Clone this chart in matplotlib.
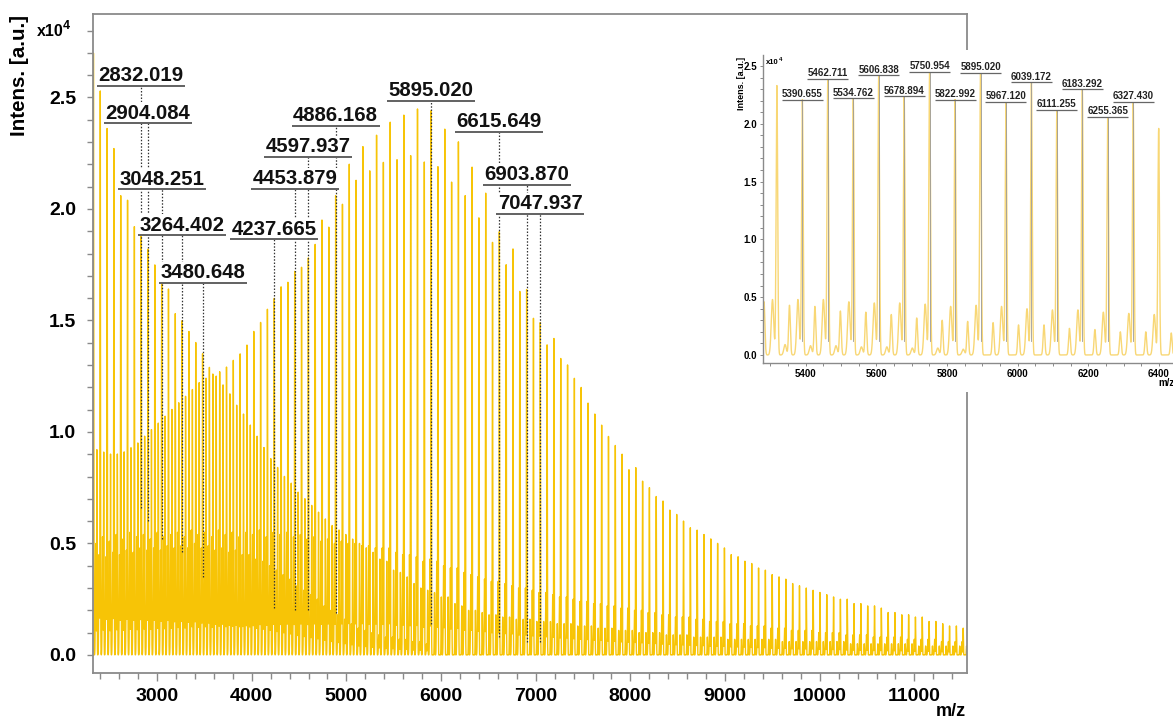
import numpy as np
import matplotlib
matplotlib.use("Agg")
import matplotlib.pyplot as plt
from matplotlib.patches import Rectangle
from matplotlib.ticker import MultipleLocator

plt.rcParams['font.family'] = ['Liberation Sans', 'DejaVu Sans']
plt.rcParams['font.weight'] = 'bold'

# ---- data (intensities in units of 1e4 a.u.) ----
repeat_unit = 72.06

# series labelled at high mass: 5895.020 + n * 72.06, first n = -49
series_a_anchor = 5895.020
series_a_first = -49
series_a_heights = [
    0.92, 0.91, 0.90, 0.90, 0.91, 0.93, 0.95, 0.98, 1.01, 1.04,
    1.07, 1.10, 1.13, 1.16, 1.19, 1.22, 1.24, 1.26, 1.27, 1.29,
    1.32, 1.35, 1.39, 1.45, 1.49, 1.55, 1.60, 1.65, 1.67, 1.72,
    1.74, 1.78, 1.84, 1.95, 1.92, 2.06, 2.02, 2.20, 2.13, 2.28,
    2.17, 2.33, 2.21, 2.39, 2.22, 2.42, 2.24, 2.45, 2.21, 2.44,
    2.19, 2.36, 2.12, 2.30, 2.06, 2.19, 1.96, 2.07, 1.85, 1.90,
    1.75, 1.82, 1.63, 1.64, 1.51, 1.49, 1.39, 1.42, 1.33, 1.30,
    1.24, 1.20, 1.13, 1.08, 1.03, 0.98, 0.94, 0.90, 0.83, 0.84,
    0.78, 0.75, 0.71, 0.69, 0.65, 0.63, 0.60, 0.57, 0.56, 0.54,
    0.52, 0.50, 0.48, 0.45, 0.44, 0.42, 0.41, 0.39, 0.38, 0.36,
    0.35, 0.34, 0.32, 0.31, 0.30, 0.29, 0.28, 0.27, 0.26, 0.25,
    0.25, 0.23, 0.23, 0.22, 0.22, 0.21, 0.19, 0.19, 0.18, 0.18,
    0.17, 0.17, 0.15, 0.15, 0.14, 0.13, 0.13, 0.12,
]

# series labelled at low mass: 2832.019 + n * 72.06, first n = -7
series_b_anchor = 2832.019
series_b_first = -7
series_b_heights = [
    2.70, 2.53, 2.36, 2.27, 2.06, 2.04, 1.92, 1.88, 1.82, 1.75,
    1.70, 1.64, 1.53, 1.50, 1.45, 1.40, 1.35, 1.29, 1.25, 1.21,
    1.17, 1.12, 1.08, 1.03, 0.98, 0.93, 0.88, 0.84, 0.80, 0.77,
    0.73, 0.70, 0.67, 0.64, 0.61, 0.58, 0.56, 0.54, 0.52, 0.50,
    0.48, 0.46, 0.43, 0.42, 0.38, 0.37, 0.35, 0.32, 0.30, 0.29,
    0.28, 0.26, 0.26, 0.23, 0.22, 0.20, 0.20, 0.19, 0.18, 0.18,
    0.17, 0.17, 0.16, 0.16, 0.16, 0.15, 0.15, 0.15, 0.14, 0.14,
    0.14, 0.13, 0.13, 0.13, 0.12, 0.12, 0.12, 0.11, 0.11, 0.11,
    0.10, 0.10, 0.10, 0.10, 0.09, 0.09, 0.09, 0.09, 0.08, 0.08,
    0.08, 0.08, 0.08, 0.07, 0.07, 0.07, 0.07, 0.07, 0.07, 0.07,
    0.07, 0.06, 0.06, 0.06, 0.06, 0.06, 0.06, 0.06, 0.06, 0.06,
    0.06, 0.05, 0.05, 0.05, 0.05, 0.05, 0.05, 0.05, 0.05, 0.05,
    0.05, 0.04, 0.04, 0.04, 0.04, 0.04, 0.04, 0.04, 0.04,
]

# satellite peaks 12.5 Da below each main series peak
satellite_shift = -12.5
satellite_a_heights = [
    0.50, 0.53, 0.51, 0.54, 0.52, 0.55, 0.53, 0.54, 0.52, 0.55,
    0.53, 0.54, 0.55, 0.53, 0.56, 0.54, 0.55, 0.53, 0.56, 0.54,
    0.55, 0.53, 0.55, 0.54, 0.56, 0.53, 0.55, 0.54, 0.55, 0.53,
    0.54, 0.52, 0.53, 0.51, 0.52, 0.50, 0.51, 0.50, 0.50, 0.49,
    0.49, 0.48, 0.48, 0.48, 0.46, 0.45, 0.45, 0.44, 0.42, 0.43,
    0.42, 0.40, 0.39, 0.39, 0.37, 0.36, 0.35, 0.34, 0.33, 0.33,
    0.32, 0.31, 0.30, 0.30, 0.29, 0.28, 0.28, 0.27, 0.26, 0.26,
    0.25, 0.24, 0.24, 0.23, 0.23, 0.22, 0.22, 0.21, 0.21, 0.20,
    0.20, 0.19, 0.19, 0.18, 0.18, 0.17, 0.17, 0.17, 0.16, 0.16,
    0.15, 0.15, 0.15, 0.14, 0.14, 0.14, 0.13, 0.13, 0.13, 0.12,
    0.12, 0.12, 0.11, 0.11, 0.11, 0.11, 0.10, 0.10, 0.10, 0.10,
    0.09, 0.09, 0.09, 0.09, 0.08, 0.08, 0.08, 0.08, 0.08, 0.07,
    0.07, 0.07, 0.07, 0.07, 0.06, 0.06, 0.06, 0.06,
]
satellite_b_heights = [
    0.42, 0.45, 0.44, 0.46, 0.45, 0.47, 0.46, 0.48, 0.47, 0.48,
    0.47, 0.49, 0.48, 0.49, 0.48, 0.50, 0.48, 0.49, 0.47, 0.48,
    0.46, 0.47, 0.45, 0.45, 0.43, 0.42, 0.40, 0.38, 0.36, 0.34,
    0.31, 0.29, 0.27, 0.25, 0.22, 0.20, 0.18, 0.16, 0.14, 0.12,
    0.11, 0.10, 0.09, 0.08, 0.08, 0.07, 0.07, 0.06, 0.06, 0.05,
]

# annotated peaks of the full spectrum
main_labels = ['2832.019', '2904.084', '3048.251', '3264.402', '3480.648',
               '4237.665', '4453.879', '4597.937', '4886.168', '5895.020',
               '6615.649', '6903.870', '7047.937']
# annotated peaks of the zoomed view
inset_labels = ['5390.655', '5462.711', '5534.762', '5606.838', '5678.894',
                '5750.954', '5822.992', '5895.020', '5967.120', '6039.172',
                '6111.255', '6183.292', '6255.365', '6327.430']

# ---- layout of the annotations ----
main_label_levels = [2.552, 2.384, 2.088, 1.883, 1.668, 1.865, 2.090,
                     2.233, 2.372, 2.484, 2.345, 2.108, 1.978]
main_stem_ends = [0.66, 0.60, 0.52, 0.46, 0.35, 0.21, 0.20,
                  0.20, 0.19, 0.14, 0.08, 0.06, 0.06]


def peak_positions(anchor, first, count, shift=0.0):
    n = np.arange(first, first + count)
    return anchor + n * repeat_unit + shift


def profile(x, centers, heights, sigma):
    y = np.zeros_like(x)
    for c, h in zip(centers, heights):
        lo, hi = np.searchsorted(x, [c - 6 * sigma, c + 6 * sigma])
        y[lo:hi] += h * np.exp(-0.5 * ((x[lo:hi] - c) / sigma) ** 2)
    return y


pos_a = peak_positions(series_a_anchor, series_a_first, len(series_a_heights))
pos_b = peak_positions(series_b_anchor, series_b_first, len(series_b_heights))
pos_sa = peak_positions(series_a_anchor, series_a_first, len(satellite_a_heights), satellite_shift)
pos_sb = peak_positions(series_b_anchor, series_b_first, len(satellite_b_heights), satellite_shift)

mz = np.arange(2300, 11600, 0.25)
intens = (profile(mz, pos_a, series_a_heights, 2.2)
          + profile(mz, pos_b, series_b_heights, 2.4)
          + profile(mz, pos_sa, satellite_a_heights, 3.5)
          + profile(mz, pos_sb, satellite_b_heights, 3.5))

W, H = 1173, 719
fig = plt.figure(figsize=(W / 100, H / 100), dpi=100)
gray = '#8a8a8a'

# ---- main spectrum ----
ax = fig.add_axes([93 / W, 1 - 673 / H, (967 - 93) / W, (673 - 14) / H])
ax.plot(mz, intens, color='#F7C406', lw=1.0, zorder=2)
ax.set_xlim(2323, 11556)
ax.set_ylim(-0.081, 2.874)
ax.set_xticks(np.arange(3000, 11001, 1000))
ax.xaxis.set_minor_locator(MultipleLocator(200))
ax.set_yticks(np.arange(0, 2.51, 0.5))
ax.set_yticklabels(['0.0', '0.5', '1.0', '1.5', '2.0', '2.5'])
ax.set_yticks(np.arange(0, 2.85, 0.1), minor=True)
ax.tick_params(axis='both', which='both', direction='out', color=gray, width=1.0, labelsize=14)
ax.tick_params(axis='x', which='major', length=6, pad=4.5)
ax.tick_params(axis='x', which='minor', length=4)
ax.tick_params(axis='y', which='both', length=4, pad=8)
for s in ax.spines.values():
    s.set_color(gray)
    s.set_linewidth(1.3)

px_x = (11556 - 2323) / (967 - 93)
px_y = (2.874 + 0.081) / (673 - 14)
for text, level, end in zip(main_labels, main_label_levels, main_stem_ends):
    m = float(text)
    ax.plot([m, m], [end, level], color='#333333', lw=0.9, ls=(0, (1.2, 1.4)), zorder=3)
    ax.plot([m - 44 * px_x, m + 44 * px_x], [level, level], color='#555555', lw=1.3, zorder=5,
            solid_capstyle='butt')
    ax.text(m, level + 4.5 * px_y, text, ha='center', va='baseline', fontsize=14.7,
            fontweight='bold', color='#111111', zorder=4,
            bbox=dict(facecolor='white', edgecolor='none', pad=1.0))

fig.text(20 / W, 1 - 15 / H, 'Intens. [a.u.]', rotation=90, ha='center', va='top',
         fontsize=14.8, fontweight='bold')
fig.text(37 / W, 1 - 36 / H, 'x10', ha='left', va='baseline', fontsize=11.5, fontweight='bold')
fig.text(63 / W, 1 - 29 / H, '4', ha='left', va='baseline', fontsize=9, fontweight='bold')
fig.text(966 / W, 1 - 716 / H, 'm/z', ha='right', va='baseline', fontsize=13, fontweight='bold')

# ---- white area behind the zoomed view ----
fig.patches.append(Rectangle((735 / W, 1 - 392 / H), (W - 735) / W, (392 - 50) / H,
                             transform=fig.transFigure, facecolor='white',
                             edgecolor='none', zorder=2))

# ---- zoomed view 5280-6440 ----
ins = fig.add_axes([763.3 / W, 1 - 362.7 / H, (W - 763.3) / W, (362.7 - 55) / H])
ins.set_zorder(3)
ins.set_facecolor('white')
sel = (mz > 5200) & (mz < 6500)
ins.plot(mz[sel], intens[sel], color='#F8D775', lw=1.0)
ins.set_xlim(5280, 6440)
ins.set_ylim(-0.067, 2.595)
ins.set_xticks(np.arange(5400, 6401, 200))
ins.xaxis.set_minor_locator(MultipleLocator(50))
ins.set_yticks(np.arange(0, 2.51, 0.5))
ins.set_yticklabels(['0.0', '0.5', '1.0', '1.5', '2.0', '2.5'])
ins.set_yticks(np.arange(0, 2.55, 0.1), minor=True)
ins.tick_params(axis='both', which='both', direction='out', color=gray, width=0.7,
                length=2.5, labelsize=7, pad=2)
ins.spines['top'].set_visible(False)
ins.spines['right'].set_visible(False)
for side in ('left', 'bottom'):
    ins.spines[side].set_color(gray)
    ins.spines[side].set_linewidth(1.0)

ipx_x = (6440 - 5280) / (W - 763.3)
ipx_y = (2.595 + 0.067) / (362.7 - 55)
for text in inset_labels:
    m = float(text)
    k = int(round((m - series_a_anchor) / repeat_unit)) - series_a_first
    level = series_a_heights[k]
    ins.plot([m, m], [0.12, level], color='#9a9a9a', lw=0.6, zorder=3)
    ins.plot([m - 20.5 * ipx_x, m + 20.5 * ipx_x], [level, level], color='#666666', lw=0.9,
             zorder=5, solid_capstyle='butt')
    ins.text(m, level + 2.5 * ipx_y, text, ha='center', va='baseline', fontsize=7,
             fontweight='bold', color='#222222', zorder=4,
             bbox=dict(facecolor='white', edgecolor='none', pad=0.3))

fig.text(741 / W, 1 - 57 / H, 'Intens. [a.u.]', rotation=90, ha='center', va='top',
         fontsize=6.5, fontweight='bold', zorder=4)
fig.text(766 / W, 1 - 64 / H, 'x10', ha='left', va='baseline', fontsize=5.5, fontweight='bold', zorder=4)
fig.text(779 / W, 1 - 61 / H, '4', ha='left', va='baseline', fontsize=4.5, fontweight='bold', zorder=4)
fig.text(1158 / W, 1 - 386 / H, 'm/z', ha='left', va='baseline', fontsize=7, fontweight='bold', zorder=4)

fig.savefig('out.png', dpi=100)
